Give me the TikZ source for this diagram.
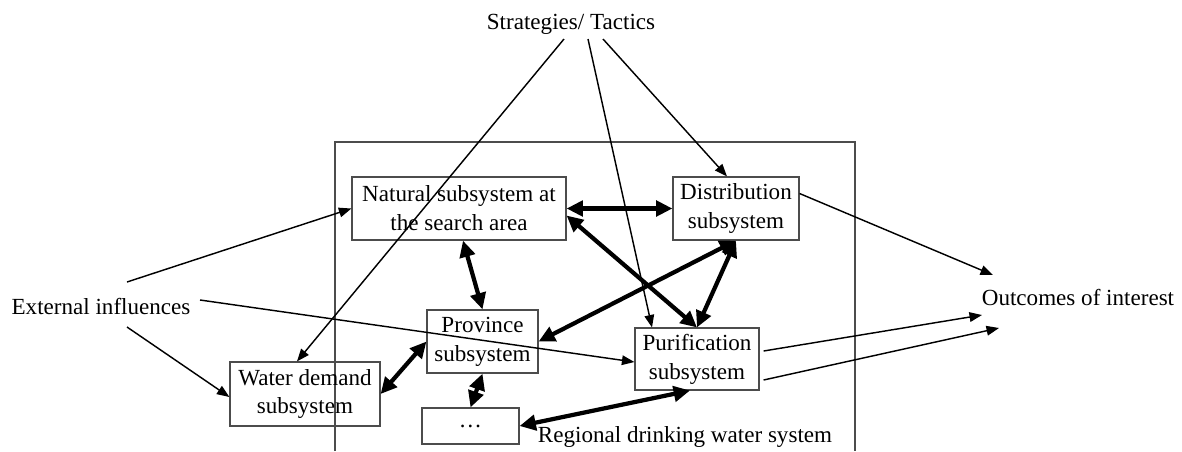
\documentclass[tikz,border=0pt]{standalone}
\usepackage{fontspec}
\setmainfont{Liberation Serif}
\usetikzlibrary{arrows.meta,calc}
\tikzset{
  subsys/.style={draw=black!70,line width=0.6pt,align=center,inner sep=2pt,minimum height=32.8pt},
  infl/.style={-{Triangle[length=6.5pt,width=5pt]},line width=0.75pt},
  link/.style={{Triangle[length=8.5pt,width=8pt]}-{Triangle[length=8.5pt,width=8pt]},line width=2.2pt},
}
\begin{document}
\begin{tikzpicture}[x=0.52pt,y=-0.52pt,font=\fontsize{12}{15}\selectfont]
\useasboundingbox (0,0) rectangle (1182,451);
% regional system frame, open at the bottom
\draw[black!70,line width=0.6pt] (335,451)--(335,142)--(855,142)--(855,451);
\node (region) at (685,437) {Regional drinking water system};
% subsystems
\node[subsys,minimum width=111.3pt] (nat) at (459,208.5) {Natural subsystem at\\the search area};
\node[subsys,minimum width=65.5pt] (dist) at (736,208.5) {Distribution\\subsystem};
\node[subsys,minimum width=57.7pt] (prov) at (482.5,341.5) {Province\\subsystem};
\node[subsys,minimum width=64.5pt,minimum height=32.2pt] (puri) at (697,359) {Purification\\subsystem};
\node[subsys,minimum width=50.4pt,minimum height=18.7pt] (dots) at (470.5,426) {\dots};
\node[subsys,minimum width=78pt,minimum height=33.3pt] (water) at (305,394) {Water demand\\subsystem};
% outside
\node (strat) at (571,24) {Strategies/ Tactics};
\node (ext) at (101,306) {External influences};
\node (out) at (1078,297) {Outcomes of interest};
% influences
\draw[infl] ($(ext)+(26,-24)$) -- (nat.west);
\draw[infl] ($(ext)+(26,21)$) -- ($(water.west)+(0,3)$);
\draw[infl] ($(ext)+(99,-6)$) -- ($(puri.west)+(0,3)$);
\draw[infl] ($(strat)+(-7,15)$) -- ($(water.north)+(-8,0)$);
\draw[infl] ($(strat)+(17,15)$) -- ($(puri.north)+(-45,0)$);
\draw[infl] ($(strat)+(32,15)$) -- ($(dist.north)+(-9,0)$);
\draw[infl] ($(dist.east)+(0,-15)$) -- ($(out)+(-85,-22)$);
\draw[infl] ($(puri.east)+(4,-8)$) -- ($(out)+(-96,18)$);
\draw[infl] ($(puri.east)+(4,21)$) -- ($(out)+(-79,31)$);
% interactions
\draw[link] (nat.east) -- (dist.west);
\draw[link] ($(nat.east)+(0,7)$) -- (puri.north);
\draw[link] ($(nat.south)+(4,0)$) -- (prov.north);
\draw[link] (dist.south) -- (prov.east);
\draw[link] (dist.south) -- (puri.north);
\draw[link] (prov.west) -- (water.east);
\draw[link] (prov.south) -- (dots.north);
\draw[link] (dots.east) -- ($(puri.south)+(-7,0)$);
\end{tikzpicture}
\end{document}
